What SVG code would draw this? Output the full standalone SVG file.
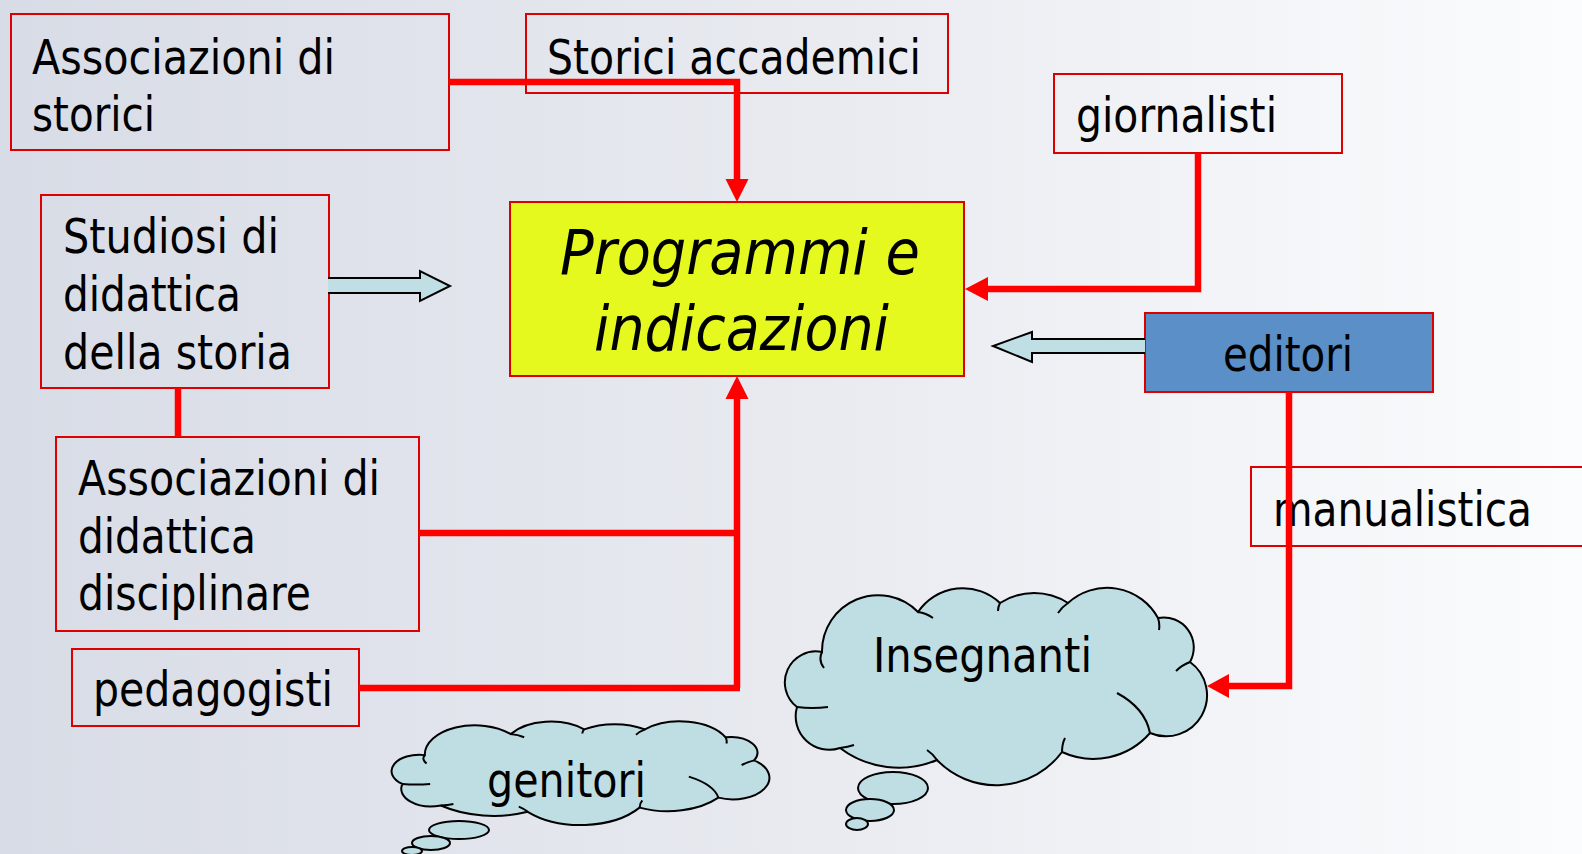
<svg xmlns="http://www.w3.org/2000/svg" width="1582" height="854" viewBox="0 0 1582 854">
<defs>
<linearGradient id="bg" x1="0" y1="0" x2="1" y2="0">
<stop offset="0" stop-color="#d8dce6"/>
<stop offset="0.5" stop-color="#e8eaf0"/>
<stop offset="1" stop-color="#fbfcfd"/>
</linearGradient>
<g id="cloud">
<path class="cl" d="M797,707 A31,31 0 0 1 822,652 A56,56 0 0 1 918,612 A54,54 0 0 1 1000,603 A63,63 0 0 1 1068,603 A58,58 0 0 1 1158,618 A30,30 0 0 1 1190,662 A41,41 0 0 1 1150,733 A75,75 0 0 1 1062,752 A82,82 0 0 1 937,760 A98,98 0 0 1 840,748 A33.5,33.5 0 0 1 797,707 Z"/>
<path class="cr" d="M822,652 q-4,8 2,16 M918,612 q8,1 15,6 M1000,603 q-2,4 -2,8 M1068,603 q-6,4 -10,10 M1158,618 q2,6 1,12 M1190,662 q-8,3 -14,9 M1150,733 q-5,-25 -33,-40 M1062,752 q0,-8 3,-14 M937,760 q-4,-6 -10,-10 M840,748 q8,-1 14,-3 M797,707 q15,2 31,0"/>
</g>
</defs>
<style>
.box{fill:none;stroke:#dd0000;stroke-width:2}
.t{font-family:"DejaVu Sans",Verdana,sans-serif;font-size:47.5px;fill:#000}
.ti{font-family:"DejaVu Sans",Verdana,sans-serif;font-size:62px;font-style:italic;fill:#000}
.cl{fill:#bedee3;stroke:#000;stroke-width:2;vector-effect:non-scaling-stroke}
.cr{fill:none;stroke:#000;stroke-width:2;vector-effect:non-scaling-stroke}
.bub{fill:#bedee3;stroke:#000;stroke-width:2}
.red{fill:none;stroke:#ff0000;stroke-width:6.5}
.head{fill:#ff0000}
.hol{fill:#c0dfe4;stroke:#000;stroke-width:2;stroke-linejoin:miter}
</style>
<rect x="0" y="0" width="1582" height="854" fill="url(#bg)"/>

<g id="node-assoc-storici">
<rect class="box" x="11" y="14" width="438" height="136"/>
<text class="t" x="32" y="74" textLength="303" lengthAdjust="spacingAndGlyphs">Associazioni di</text>
<text class="t" x="32" y="131" textLength="123" lengthAdjust="spacingAndGlyphs">storici</text>
</g>
<g id="node-storici-accademici">
<rect class="box" x="526" y="14" width="422" height="79"/>
<text class="t" x="547" y="74" textLength="374" lengthAdjust="spacingAndGlyphs">Storici accademici</text>
</g>
<g id="node-giornalisti">
<rect class="box" x="1054" y="74" width="288" height="79"/>
<text class="t" x="1076" y="132" textLength="201" lengthAdjust="spacingAndGlyphs">giornalisti</text>
</g>
<g id="node-programmi">
<rect x="510" y="202" width="454" height="174" fill="#e5f91f" stroke="#dd0000" stroke-width="2"/>
<text class="ti" x="560" y="274" textLength="360" lengthAdjust="spacingAndGlyphs">Programmi e</text>
<text class="ti" x="594" y="350" textLength="295" lengthAdjust="spacingAndGlyphs">indicazioni</text>
</g>
<g id="node-studiosi">
<rect class="box" x="41" y="195" width="288" height="193"/>
<text class="t" x="63" y="253" textLength="216" lengthAdjust="spacingAndGlyphs">Studiosi di</text>
<text class="t" x="63" y="311" textLength="178" lengthAdjust="spacingAndGlyphs">didattica</text>
<text class="t" x="63" y="369" textLength="229" lengthAdjust="spacingAndGlyphs">della storia</text>
</g>
<g id="node-assoc-didattica">
<rect class="box" x="56" y="437" width="363" height="194"/>
<text class="t" x="78" y="495" textLength="302" lengthAdjust="spacingAndGlyphs">Associazioni di</text>
<text class="t" x="78" y="553" textLength="178" lengthAdjust="spacingAndGlyphs">didattica</text>
<text class="t" x="78" y="610" textLength="233" lengthAdjust="spacingAndGlyphs">disciplinare</text>
</g>
<g id="node-pedagogisti">
<rect class="box" x="72" y="649" width="287" height="77"/>
<text class="t" x="93" y="706" textLength="240" lengthAdjust="spacingAndGlyphs">pedagogisti</text>
</g>
<g id="node-editori">
<rect x="1145" y="313" width="288" height="79" fill="#5b8fc7" stroke="#dd0000" stroke-width="2"/>
<text class="t" x="1223" y="371" textLength="130" lengthAdjust="spacingAndGlyphs">editori</text>
</g>
<g id="node-manualistica">
<rect class="box" x="1251" y="467" width="345" height="79"/>
<text class="t" x="1273" y="526" textLength="259" lengthAdjust="spacingAndGlyphs">manualistica</text>
</g>
<g id="node-insegnanti">
<use href="#cloud"/>
<ellipse class="bub" cx="893" cy="788" rx="35" ry="16"/>
<ellipse class="bub" cx="870" cy="810" rx="24" ry="11"/>
<ellipse class="bub" cx="857" cy="824" rx="11" ry="6"/>
<text class="t" x="873" y="672" textLength="219" lengthAdjust="spacingAndGlyphs">Insegnanti</text>
</g>
<g id="node-genitori">
<use href="#cloud" transform="translate(389,721) scale(0.895,0.525) translate(-782,-587)"/>
<ellipse class="bub" cx="459" cy="830" rx="30" ry="9"/>
<ellipse class="bub" cx="431" cy="843" rx="19" ry="7"/>
<ellipse class="bub" cx="412" cy="851" rx="10" ry="4"/>
<text class="t" x="487" y="797" textLength="159" lengthAdjust="spacingAndGlyphs">genitori</text>
</g>

<g id="connectors">
<polyline class="red" points="449,82 737,82 737,182"/>
<polygon class="head" points="725.5,179 748.5,179 737,202"/>
<polyline class="red" points="419,533 737,533"/>
<polyline class="red" points="359,688 740,688 737,688 737,396"/>
<polygon class="head" points="725.5,399 748.5,399 737,376"/>
<line class="red" x1="178" y1="388" x2="178" y2="437"/>
<polyline class="red" points="1198,153 1198,289 985,289"/>
<polygon class="head" points="988,277 988,301 965,289"/>
<polyline class="red" points="1289,392 1289,686 1226,686"/>
<polygon class="head" points="1229,674 1229,698 1207,686"/>
<path class="hol" d="M328,278 H420 V271 L450,286 L420,301 V293 H328"/>
<path class="hol" d="M1145,339 H1032 V332 L993,346 L1032,362 V353 H1145"/>
</g>
</svg>
